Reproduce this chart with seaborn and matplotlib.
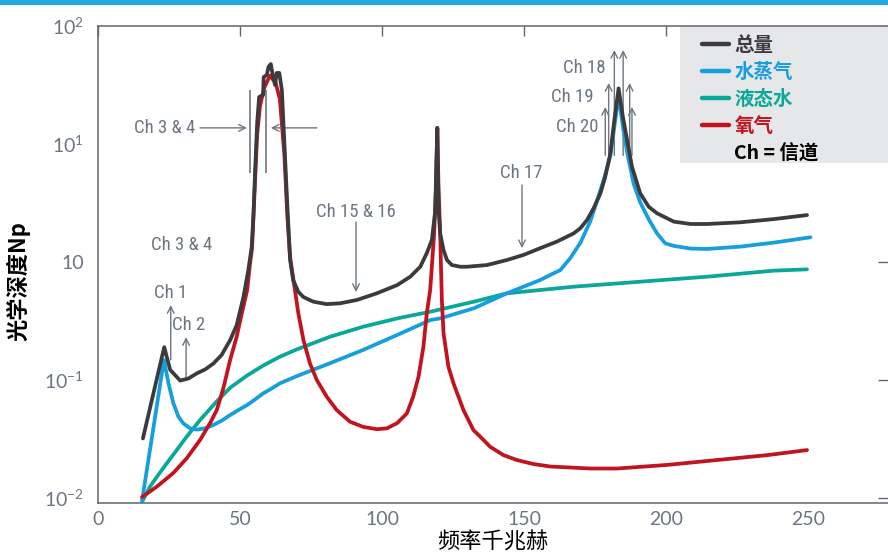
import matplotlib
matplotlib.use("Agg")
import matplotlib.pyplot as plt
import seaborn as sns
import pandas as pd
from matplotlib.lines import Line2D
from matplotlib.patches import Rectangle
from matplotlib.ticker import NullLocator

# Optical depth vs frequency
freq_total = [15.8, 23.3, 25.4, 28.9, 31.8, 34.8, 37.7, 40.6, 43.5, 46.5, 48.8, 51.2, 52.9,
              54.1, 54.7, 55.3, 56.0, 56.7, 58.1, 58.3, 59.4, 60.0, 60.8, 61.5, 62.3, 62.9,
              63.8, 64.7, 66.5, 67.6, 68.7, 70.5, 72.3, 75.8, 80.5, 85.2, 91.1, 98.1, 105.3,
              109.9, 113.4, 115.7, 117.5, 118.7, 119.0, 119.4, 119.8, 120.4, 121.6, 122.8,
              124.5, 127.5, 129.8, 136.9, 143.9, 149.8, 155.6, 161.5, 167.4, 169.7, 172.1,
              174.4, 176.8, 178.5, 180.3, 181.7, 183.2, 184.7, 186.2, 187.9, 190.8, 193.8,
              196.7, 202.6, 208.5, 214.3, 226.0, 237.8, 249.5]
total = [0.032, 0.19, 0.122, 0.099, 0.103, 0.114, 0.123, 0.138, 0.163, 0.218, 0.292, 0.508,
         0.855, 1.35, 2.5, 6.0, 15, 25, 26, 36.9, 38.5, 45, 47.6, 38.5, 31.6, 40,
         40, 28.7, 3.48, 1.04, 0.70, 0.56, 0.505, 0.461, 0.44, 0.447, 0.477, 0.543, 0.638,
         0.751, 0.912, 1.19, 1.54, 2.76, 6.0, 13.7, 2.9, 1.75, 1.26, 1.04,
         0.943, 0.912, 0.912, 0.943, 1.04, 1.15, 1.31, 1.49, 1.75, 1.93, 2.27,
         2.85, 3.82, 5.28, 8.3, 16, 29.6, 17, 10.8, 6.42, 3.82, 2.94,
         2.59, 2.2, 2.10, 2.10, 2.17, 2.31, 2.5]

freq_vapor = [15.5, 19.4, 23.2, 24.8, 26.5, 28.3, 30.0, 32.4, 34.8, 37.7, 40.6, 43.5, 46.5,
              49.4, 52.5, 55.3, 58.1, 61.2, 64.1, 70.0, 81.7, 93.3, 105.3, 116.9, 120.4,
              132.2, 143.9, 155.6, 160.3, 162.7, 166.2, 169.7, 173.2, 175.6, 178.0, 180.3,
              181.7, 183.2, 184.7, 186.2, 188.5, 190.8, 193.8, 196.7, 199.6, 202.6, 208.5,
              214.3, 226.0, 237.8, 250.7]
vapor = [0.0095, 0.038, 0.148, 0.094, 0.0638, 0.0489, 0.043, 0.039, 0.038, 0.039, 0.0416,
         0.0452, 0.0505, 0.0557, 0.0614, 0.0686, 0.077, 0.0851, 0.094, 0.108, 0.139, 0.18,
         0.241, 0.322, 0.333, 0.405, 0.543, 0.704, 0.802, 0.855, 1.08, 1.45, 2.2, 3.3,
         5.0, 8.0, 14, 26, 14, 8.5, 4.6, 3.2, 2.3, 1.75, 1.44, 1.37, 1.30,
         1.29, 1.35, 1.46, 1.62]

freq_liquid = [15.5, 18.3, 21.2, 24.2, 27.7, 31.2, 35.9, 41.8, 46.5, 52.4, 58.2, 64.1, 70.0,
               81.7, 93.3, 105.3, 116.9, 132.2, 143.9, 167.4, 190.8, 214.3, 237.8, 249.5]
liquid = [0.0093, 0.0125, 0.0157, 0.0197, 0.0255, 0.0331, 0.0458, 0.066, 0.086, 0.109,
          0.133, 0.158, 0.182, 0.233, 0.283, 0.333, 0.379, 0.461, 0.543, 0.618, 0.681, 0.751,
          0.845, 0.867]

freq_oxygen = [15.5, 20.7, 26.5, 31.2, 35.9, 39.4, 41.8, 44.1, 46.5, 48.8, 50.6, 52.5, 53.5,
               54.2, 55.0, 56.0, 57.0, 58.5, 60.5, 62.5, 64.0, 65.6, 66.6, 67.6, 68.8, 70.5,
               72.3, 74.6, 77.0, 80.5, 84.0, 88.7, 93.3, 98.2, 101.7, 105.3, 108.7, 110.9,
               112.8, 114.5, 115.7, 116.9, 118.3, 119.0, 119.4, 119.8, 120.4, 121.0, 121.6,
               123.3, 125.1, 128.6, 132.1, 134.5, 138.0, 142.7, 147.4, 153.3, 159.2, 173.2,
               182.7, 200.4, 217.8, 235.5, 249.5]
oxygen = [0.0102, 0.0125, 0.0163, 0.0217, 0.031, 0.043, 0.0557, 0.085, 0.148, 0.233, 0.367,
          0.579, 0.975, 1.3, 3.5, 12, 21, 30, 38, 33, 24, 8, 2.5, 1.1, 0.70, 0.367,
          0.218, 0.138, 0.1, 0.0722, 0.0557, 0.0443, 0.0401, 0.0383, 0.039, 0.0432, 0.0522,
          0.0722, 0.107, 0.191, 0.367, 0.58, 1.75, 4.67, 13.7, 4.6, 1.76, 0.477, 0.249,
          0.13, 0.0938, 0.0557, 0.0377, 0.0331, 0.0272, 0.0231, 0.021, 0.0194, 0.0185,
          0.0178, 0.0178, 0.0191, 0.021, 0.0231, 0.0255]

series_labels = ["总量", "水蒸气", "液态水", "氧气"]
series_colors = ["#3b3b3d", "#179fdd", "#0aa898", "#c1141f"]

GRAY = "#6c7682"
SPINE = "#5f6670"

sns.set_theme(style="white")
plt.rcParams["font.family"] = ["Noto Sans CJK SC", "DejaVu Sans"]
plt.rcParams["mathtext.fontset"] = "custom"
plt.rcParams["mathtext.rm"] = "Lato"
plt.rcParams["mathtext.default"] = "rm"

fig = plt.figure(figsize=(8.88, 5.55), dpi=100)
ax = fig.add_axes([98 / 888, 52 / 555, 790 / 888, 477 / 555])

# top blue band
fig.add_artist(Rectangle((0, 1 - 5 / 555), 1, 5 / 555, transform=fig.transFigure,
                         color="#22a9e1", lw=0))

ax.set_yscale("log")
data = [(freq_liquid, liquid, 2), (freq_vapor, vapor, 1), (freq_oxygen, oxygen, 3),
        (freq_total, total, 0)]
for fx, fy, i in data:
    df = pd.DataFrame({"f": fx, "v": fy})
    sns.lineplot(data=df, x="f", y="v", color=series_colors[i], lw=2.7, sort=False,
                 ax=ax, zorder=3 + (i == 0), solid_capstyle="round", solid_joinstyle="round")

ax.set_xlim(0, 278)
ax.set_ylim(0.00908, 100)
ax.set_xticks([0, 50, 100, 150, 200, 250])
ax.set_xticklabels(["0", "50", "100", "150", "200", "250"])
ax.set_yticks([100, 10, 1, 0.1, 0.01])
ax.set_yticklabels([r"$10^{2}$", r"$10^{1}$", "10", r"$10^{-1}$", r"$10^{-2}$"])
ax.yaxis.set_minor_locator(NullLocator())
ax.tick_params(direction="in", length=7.5, width=1, color=SPINE, labelcolor=GRAY,
               labelsize=14, top=True, right=True)
ax.tick_params(axis="y", pad=10)
ax.tick_params(axis="x", pad=6)
for lbl in ax.get_xticklabels() + ax.get_yticklabels():
    lbl.set_fontfamily(["Lato", "DejaVu Sans"])

for s in ["left", "bottom", "top"]:
    ax.spines[s].set_color(SPINE)
    ax.spines[s].set_linewidth(1.1)
ax.spines["right"].set_visible(False)

ax.set_ylabel("光学深度Np", fontsize=16, fontweight="bold", color="black")
ax.yaxis.set_label_coords(-0.086, 0.465)
ax.set_xlabel("频率千兆赫", fontsize=16, color="black")
ax.xaxis.set_label_coords(0.5, -0.058)

# annotations
afont = dict(family=["Roboto Condensed", "Roboto", "DejaVu Sans"], size=13.5, color=GRAY)
aprops = dict(arrowstyle="->", color=GRAY, lw=1.0, shrinkA=0, shrinkB=0)

ax.text(23.6, 13.7, "Ch 3 & 4", ha="center", va="center", **afont)
ax.annotate("", xy=(52.4, 13.7), xytext=(35.9, 13.7), arrowprops=aprops)
ax.annotate("", xy=(60.8, 13.7), xytext=(77.0, 13.7), arrowprops=aprops)
ax.vlines([53.5, 59.0], 5.68, 28.7, color=GRAY, lw=1.2, zorder=2)
ax.text(29.6, 1.39, "Ch 3 & 4", ha="center", va="center", **afont)

ax.text(25.4, 0.546, "Ch 1", ha="center", va="center", **afont)
ax.annotate("", xy=(25.6, 0.432), xytext=(25.6, 0.148), arrowprops=aprops)
ax.text(32.0, 0.292, "Ch 2", ha="center", va="center", **afont)
ax.annotate("", xy=(31.0, 0.231), xytext=(31.0, 0.106), arrowprops=aprops)

ax.text(90.8, 2.65, "Ch 15 & 16", ha="center", va="center", **afont)
ax.annotate("", xy=(90.8, 0.557), xytext=(90.8, 2.18), arrowprops=aprops)
ax.text(148.9, 5.68, "Ch 17", ha="center", va="center", **afont)
ax.annotate("", xy=(149.2, 1.31), xytext=(149.2, 4.5), arrowprops=aprops)

ax.text(171.1, 44, "Ch 18", ha="center", va="center", **afont)
ax.text(166.9, 25, "Ch 19", ha="center", va="center", **afont)
ax.text(168.7, 13.9, "Ch 20", ha="center", va="center", **afont)
for xs, top in [((181.7, 184.8), 62.6), ((179.7, 187.1), 32.9), ((178.5, 187.9), 20.6)]:
    for x in xs:
        ax.annotate("", xy=(x, top), xytext=(x, 8.0), arrowprops=dict(aprops), zorder=2)

# legend
ax.add_patch(Rectangle(((680 - 98) / 790, (503 - 163) / 477), 1, 1, transform=ax.transAxes,
                       facecolor="#e6e7e8", edgecolor="none", zorder=1))
handles = [Line2D([], [], color=c, lw=3.2, solid_capstyle="round") for c in series_colors]
handles.append(Line2D([], [], color="none"))
leg = ax.legend(handles, series_labels + ["Ch = 信道"], loc="upper left",
                bbox_to_anchor=((702 - 98) / 790, (503 - 36) / 477), frameon=False,
                borderpad=0, borderaxespad=0, handlelength=1.39, handletextpad=0.28,
                labelspacing=0.41, labelcolor=series_colors + ["black"],
                prop=dict(family=["Noto Sans CJK SC"], weight="bold", size=14))
leg.set_zorder(6)

fig.savefig("out.png", dpi=100)
